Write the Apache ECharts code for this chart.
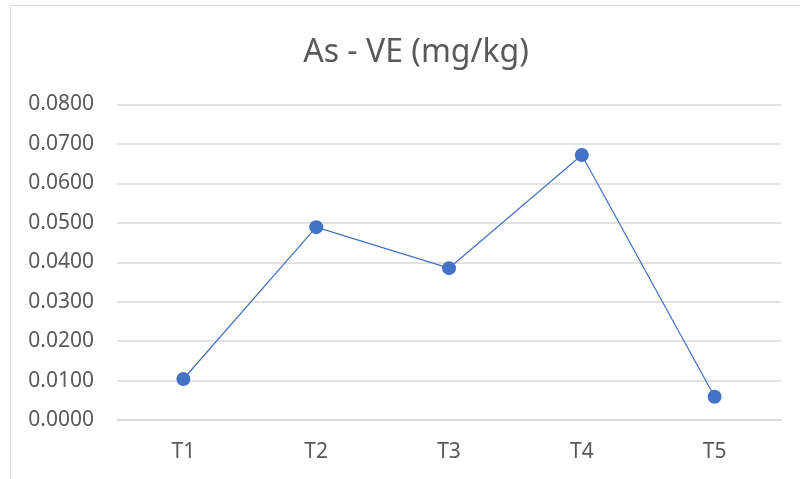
<!DOCTYPE html>
<html>
<head>
<meta charset="utf-8">
<script src="https://cdn.jsdelivr.net/npm/echarts@6/dist/echarts.min.js"></script>
<style>
    html, body { margin: 0; padding: 0; background: #fff; }
    #main { width: 800px; height: 479px; }
</style>
</head>
<body>
<div id="main"></div>
<script>
var titleText = 'As - VE (mg/kg)';
var categories = ['T1', 'T2', 'T3', 'T4', 'T5'];
var values = [0.0104, 0.0489, 0.0385, 0.0672, 0.0059];

var myCharts = echarts.init(document.getElementById('main'));
myCharts.setOption({
    backgroundColor: '#fff',
    textStyle: { fontFamily: 'Noto Sans' },
    graphic: [{
        type: 'rect',
        shape: { x: 10.5, y: 5.5, width: 800, height: 480 },
        style: { fill: 'none', stroke: '#d9d9d9', lineWidth: 1 },
        silent: true
    }],
    title: {
        text: titleText,
        left: 411,
        textAlign: 'center',
        top: 32,
        textStyle: {
            color: '#595959',
            fontSize: 32,
            fontWeight: 'normal',
            fontFamily: 'Noto Sans'
        }
    },
    grid: {
        left: 117,
        right: 19,
        top: 104.5,
        bottom: 59
    },
    xAxis: {
        type: 'category',
        data: categories,
        boundaryGap: true,
        axisLine: { lineStyle: { color: '#d9d9d9', width: 1.5 } },
        axisTick: { show: false },
        axisLabel: { color: '#595959', fontSize: 21, margin: 22 }
    },
    yAxis: {
        type: 'value',
        min: 0,
        max: 0.08,
        interval: 0.01,
        axisLine: { show: false },
        axisTick: { show: false },
        splitLine: { lineStyle: { color: '#d9d9d9', width: 1.5 } },
        axisLabel: {
            color: '#595959',
            fontSize: 21,
            margin: 23,
            formatter: function (v) { return v.toFixed(4); }
        }
    },
    series: [{
        type: 'line',
        data: values,
        symbol: 'circle',
        symbolSize: 14,
        lineStyle: { color: '#4472c4', width: 1.25 },
        itemStyle: { color: '#4472c4' }
    }]
});
</script>
</body>
</html>
